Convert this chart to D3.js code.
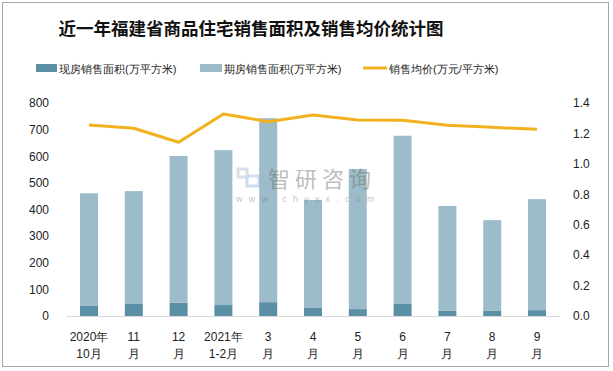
<!DOCTYPE html>
<html><head><meta charset="utf-8">
<script src="https://cdn.jsdelivr.net/npm/d3@7/dist/d3.min.js"></script>
<style>body{margin:0;background:#fff}svg{display:block}</style>
</head><body>
<svg id="c" width="613" height="371"></svg>
<script>
const categories = [["2020年","10月"],["11","月"],["12","月"],["2021年","1-2月"],["3","月"],["4","月"],["5","月"],["6","月"],["7","月"],["8","月"],["9","月"]];
const xianfang = [38, 45, 50, 41, 52, 30, 26, 45, 19, 19, 22];
const totalArea = [461, 469, 601, 623, 743, 436, 552, 677, 413, 360, 439];
const qifang = totalArea.map((t,i)=>t - xianfang[i]);
const price = [1.255, 1.234, 1.142, 1.328, 1.277, 1.321, 1.288, 1.286, 1.253, 1.240, 1.227];
const leftTicks = [0,100,200,300,400,500,600,700,800];
const rightTicks = [0,0.2,0.4,0.6,0.8,1.0,1.2,1.4];
const seriesNames = ["现房销售面积(万平方米)","期房销售面积(万平方米)","销售均价(万元/平方米)"];
const colors = {xf:"#5a8fa5", qf:"#9dbcc9", line:"#f2b11f"};

const svg = d3.select("#c");
const font = "'Liberation Sans', Arial, sans-serif";
svg.append("rect").attr("x",2.5).attr("y",2.5).attr("width",606).attr("height",364)
  .attr("fill","#fff").attr("stroke","#a6a6a6").attr("stroke-width",1);

svg.append("text").attr("x",251).attr("y",35).attr("text-anchor","middle")
  .attr("font-family","'Noto Sans CJK SC'").attr("font-weight","bold").attr("font-size",17.5)
  .attr("fill","#111").text("近一年福建省商品住宅销售面积及销售均价统计图");

const x = d3.scaleBand().domain(d3.range(categories.length)).range([66.6,559.4]).paddingInner(0.6).paddingOuter(0.3);
const y = d3.scaleLinear().domain([0,800]).range([316,103]);
const y2 = d3.scaleLinear().domain([0,1.4]).range([316,103]);

// bars
const bw = 18;
const g = svg.append("g");
g.selectAll(".xf").data(xianfang).join("rect")
  .attr("x",(d,i)=>x(i)+x.bandwidth()/2-bw/2).attr("width",bw)
  .attr("y",d=>y(d)).attr("height",d=>y(0)-y(d)).attr("fill",colors.xf);
g.selectAll(".qf").data(qifang).join("rect")
  .attr("x",(d,i)=>x(i)+x.bandwidth()/2-bw/2).attr("width",bw)
  .attr("y",(d,i)=>y(d+xianfang[i])).attr("height",(d,i)=>y(xianfang[i])-y(d+xianfang[i])).attr("fill",colors.qf);

// axis line
svg.append("line").attr("x1",66).attr("x2",560).attr("y1",316.5).attr("y2",316.5).attr("stroke","#d9d9d9");

// line
const line = d3.line().x((d,i)=>x(i)+x.bandwidth()/2).y(d=>y2(d));
svg.append("path").datum(price).attr("d",line).attr("fill","none").attr("stroke",colors.line).attr("stroke-width",3).attr("stroke-linejoin","round");

// watermark (on top, translucent)
const wm = svg.append("g").attr("opacity",0.45);
wm.append("rect").attr("x",238).attr("y",169).attr("width",9).attr("height",8).attr("fill","none").attr("stroke","#a9b6cc").attr("stroke-width",3);
wm.append("rect").attr("x",247).attr("y",176).attr("width",12).attr("height",10).attr("fill","none").attr("stroke","#8fb4dd").attr("stroke-width",3);
wm.append("text").attr("x",268).attr("y",187).attr("font-family","'Noto Sans CJK SC'").attr("font-size",22)
  .attr("fill","#6e6e6e").attr("letter-spacing",5).text("智研咨询");
wm.append("text").attr("x",236).attr("y",202).attr("font-family",font).attr("font-size",9)
  .attr("fill","#7a7a7a").attr("letter-spacing",6.2).text("www.chyxx.com");

// left axis
const la = svg.append("g").attr("transform","translate(56,0)")
  .call(d3.axisLeft(y).tickValues(leftTicks).tickSize(0).tickPadding(7));
la.select(".domain").remove();
la.selectAll("text").attr("font-family",font).attr("font-size",12).attr("fill","#222");

const ra = svg.append("g").attr("transform","translate(566,0)")
  .call(d3.axisRight(y2).tickValues(rightTicks).tickSize(0).tickPadding(7).tickFormat(d3.format(".1f")));
ra.select(".domain").remove();
ra.selectAll("text").attr("font-family",font).attr("font-size",12).attr("fill","#222");

// x labels
const xl = svg.append("g");
categories.forEach((c,i)=>{
  const cx = x(i)+x.bandwidth()/2;
  const t = xl.append("text").attr("text-anchor","middle").attr("font-family",font).attr("font-size",12).attr("fill","#222");
  t.append("tspan").attr("x",cx).attr("y",341).text(c[0]);
  t.append("tspan").attr("x",cx).attr("y",358).text(c[1]);
});

// legend
const lg = svg.append("g").attr("font-family",font).attr("font-size",11).attr("fill","#222");
lg.append("rect").attr("x",36).attr("y",64).attr("width",21).attr("height",8).attr("fill",colors.xf);
lg.append("text").attr("x",59).attr("y",72.5).text(seriesNames[0]);
lg.append("rect").attr("x",200).attr("y",64).attr("width",22).attr("height",8).attr("fill",colors.qf);
lg.append("text").attr("x",224).attr("y",72.5).text(seriesNames[1]);
lg.append("line").attr("x1",363).attr("x2",387).attr("y1",68).attr("y2",68).attr("stroke",colors.line).attr("stroke-width",3);
lg.append("text").attr("x",389).attr("y",72.5).text(seriesNames[2]);
</script>
</body></html>
